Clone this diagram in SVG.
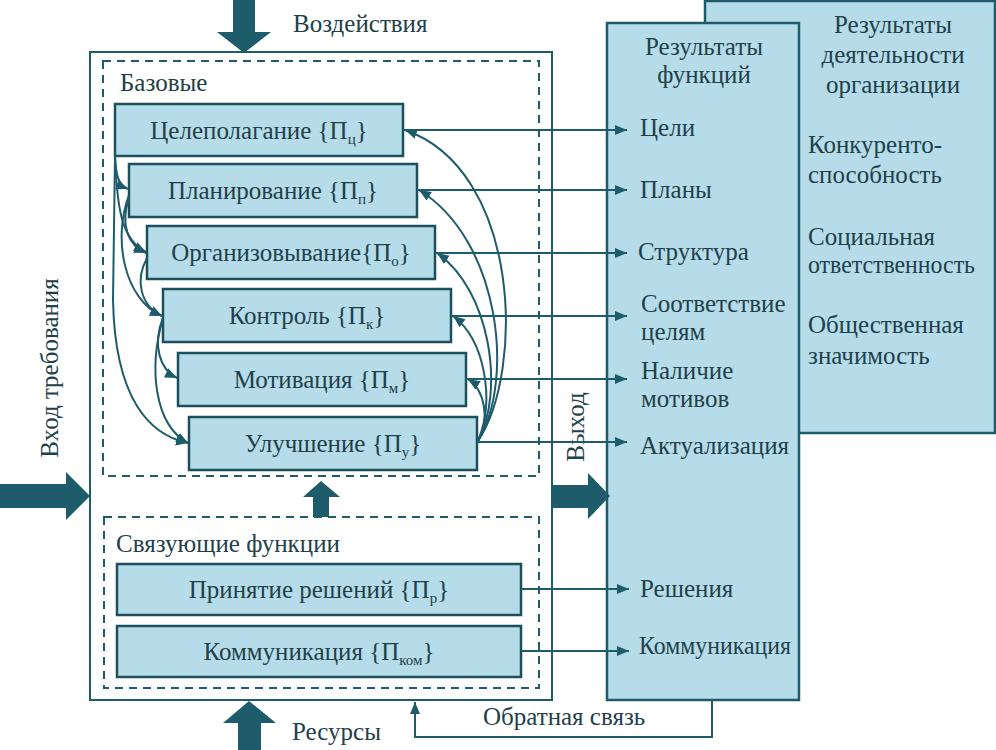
<svg xmlns="http://www.w3.org/2000/svg" width="996" height="750" viewBox="0 0 996 750">
<style>
text{fill:#22404a}
.box{fill:#b5dce8;stroke:#1d4f5c;stroke-width:2.5}
.panel{fill:#b5dce8;stroke:#1f5c6b;stroke-width:2.5}
.frame{fill:#fff;stroke:#1f5c6b;stroke-width:2}
.dash{fill:none;stroke:#1f5c6b;stroke-width:2;stroke-dasharray:8 6}
.big{fill:#1f5c6b}
.c{fill:none;stroke:#1f5c6b;stroke-width:2;marker-end:url(#ah)}
</style>
<defs>
<marker id="ah" markerUnits="userSpaceOnUse" markerWidth="13" markerHeight="11" refX="12" refY="5" orient="auto" viewBox="0 0 13 11">
<path d="M0,0 L12,5 L0,10 z" fill="#1f5c6b"/>
</marker>
</defs>
<rect width="996" height="750" fill="#fff"/>

<g id="results-org">
<rect class="panel" x="705" y="1" width="290" height="432"/>
<text font-family="Liberation Serif" font-size="25" text-anchor="middle" x="893" y="33">Результаты</text>
<text font-family="Liberation Serif" font-size="25" text-anchor="middle" x="893" y="63">деятельности</text>
<text font-family="Liberation Serif" font-size="25" text-anchor="middle" x="893" y="93">организации</text>
<text font-family="Liberation Serif" font-size="25" x="808" y="153">Конкуренто-</text>
<text font-family="Liberation Serif" font-size="25" x="808" y="183">способность</text>
<text font-family="Liberation Serif" font-size="25" x="808" y="245">Социальная</text>
<text font-family="Liberation Serif" font-size="25" x="808" y="273" textLength="167" lengthAdjust="spacingAndGlyphs">ответственность</text>
<text font-family="Liberation Serif" font-size="25" x="808" y="333">Общественная</text>
<text font-family="Liberation Serif" font-size="25" x="808" y="364">значимость</text>
</g>

<g id="results-func">
<rect class="panel" x="607" y="23" width="192" height="677"/>
<text font-family="Liberation Serif" font-size="25" text-anchor="middle" x="704" y="55">Результаты</text>
<text font-family="Liberation Serif" font-size="25" text-anchor="middle" x="704" y="83">функций</text>
<text font-family="Liberation Serif" font-size="25" x="640" y="136">Цели</text>
<text font-family="Liberation Serif" font-size="25" x="640" y="198">Планы</text>
<text font-family="Liberation Serif" font-size="25" x="638" y="260">Структура</text>
<text font-family="Liberation Serif" font-size="25" x="641" y="312">Соответствие</text>
<text font-family="Liberation Serif" font-size="25" x="641" y="340">целям</text>
<text font-family="Liberation Serif" font-size="25" x="641" y="379">Наличие</text>
<text font-family="Liberation Serif" font-size="25" x="641" y="407">мотивов</text>
<text font-family="Liberation Serif" font-size="25" x="640" y="454">Актуализация</text>
<text font-family="Liberation Serif" font-size="25" x="640" y="597">Решения</text>
<text font-family="Liberation Serif" font-size="25" x="639" y="654" textLength="152" lengthAdjust="spacingAndGlyphs">Коммуникация</text>
</g>

<g id="system">
<rect class="frame" x="90" y="52" width="462" height="648"/>
<rect class="dash" x="103" y="61" width="436" height="415"/>
<rect class="dash" x="104" y="517" width="435" height="171"/>
<text font-family="Liberation Serif" font-size="25" x="120" y="91">Базовые</text>
<text font-family="Liberation Serif" font-size="25" x="116" y="552">Связующие функции</text>
</g>

<g id="inputs">
<path class="big" d="M233,0 H255 V32 H271 L244,53 L217,32 H233 Z"/>
<text font-family="Liberation Serif" font-size="25" x="293" y="32">Воздействия</text>
<path class="big" d="M0,484 H66 V472 L90,496 L66,520 V508 H0 Z"/>
<text font-family="Liberation Serif" font-size="25" text-anchor="middle" transform="translate(58,368) rotate(-90)">Вход требования</text>
<path class="big" d="M238,750 V723 H223 L249,701 L276,723 H261 V750 Z"/>
<text font-family="Liberation Serif" font-size="25" x="292" y="740">Ресурсы</text>
<path class="big" d="M313,517 V497 H303 L321,481 L340,497 H329 V517 Z"/>
<path class="big" d="M552,485 H588 V473 L610,496 L588,519 V508 H552 Z"/>
<text font-family="Liberation Serif" font-size="25" text-anchor="middle" transform="translate(584,427) rotate(-90)">Выход</text>
<text font-family="Liberation Serif" font-size="25" x="483" y="725">Обратная связь</text>
</g>

<g id="n-goal"><rect class="box" x="115" y="104" width="288" height="52"/>
<text font-family="Liberation Serif" font-size="25" text-anchor="middle" x="259" y="139">Целеполагание {П<tspan font-size="15" dy="5">ц</tspan><tspan dy="-5">}</tspan></text></g>
<g id="n-plan"><rect class="box" x="129" y="164" width="288" height="53"/>
<text font-family="Liberation Serif" font-size="25" text-anchor="middle" x="273" y="199">Планирование {П<tspan font-size="15" dy="5">п</tspan><tspan dy="-5">}</tspan></text></g>
<g id="n-org"><rect class="box" x="147" y="226" width="288" height="53"/>
<text font-family="Liberation Serif" font-size="25" text-anchor="middle" x="291" y="261">Организовывание{П<tspan font-size="15" dy="5">о</tspan><tspan dy="-5">}</tspan></text></g>
<g id="n-ctrl"><rect class="box" x="163" y="289" width="288" height="53"/>
<text font-family="Liberation Serif" font-size="25" text-anchor="middle" x="307" y="324">Контроль {П<tspan font-size="15" dy="5">к</tspan><tspan dy="-5">}</tspan></text></g>
<g id="n-motiv"><rect class="box" x="178" y="353" width="288" height="53"/>
<text font-family="Liberation Serif" font-size="25" text-anchor="middle" x="322" y="388">Мотивация {П<tspan font-size="15" dy="5">м</tspan><tspan dy="-5">}</tspan></text></g>
<g id="n-impr"><rect class="box" x="189" y="417" width="288" height="53"/>
<text font-family="Liberation Serif" font-size="25" text-anchor="middle" x="333" y="452">Улучшение {П<tspan font-size="15" dy="5">у</tspan><tspan dy="-5">}</tspan></text></g>
<g id="n-dec"><rect class="box" x="117" y="564" width="404" height="51"/>
<text font-family="Liberation Serif" font-size="25" text-anchor="middle" x="319" y="598">Принятие решений {П<tspan font-size="15" dy="5">р</tspan><tspan dy="-5">}</tspan></text></g>
<g id="n-comm"><rect class="box" x="117" y="626" width="404" height="51"/>
<text font-family="Liberation Serif" font-size="25" text-anchor="middle" x="319" y="660">Коммуникация {П<tspan font-size="15" dy="5">ком</tspan><tspan dy="-5">}</tspan></text></g>

<g id="connectors">
<path class="c" d="M403,130 H627"/>
<path class="c" d="M417,190 H627"/>
<path class="c" d="M435,253 H627"/>
<path class="c" d="M451,316 H627"/>
<path class="c" d="M466,379 H627"/>
<path class="c" d="M477,442 H627"/>
<path class="c" d="M521,589 H629"/>
<path class="c" d="M521,651 H629"/>
<path class="c" d="M478,441 C525,370 520,170 405,130"/>
<path class="c" d="M478,441 C515,380 500,240 419,190"/>
<path class="c" d="M478,441 C505,390 490,290 437,253"/>
<path class="c" d="M478,441 C495,400 485,340 453,316"/>
<path class="c" d="M478,441 C490,420 485,390 468,379"/>
<path class="c" d="M115,156 C116,175 118,185 128,189"/>
<path class="c" d="M115,156 C117,210 122,240 146,252"/>
<path class="c" d="M129,198 C120,225 128,245 146,253"/>
<path class="c" d="M115,156 L113,300 C115,400 150,435 188,443"/>
<path class="c" d="M129,195 C112,240 125,300 162,316"/>
<path class="c" d="M147,258 C135,280 140,305 162,316"/>
<path class="c" d="M163,318 C152,345 160,370 177,378"/>
<path class="c" d="M163,318 C148,370 155,425 188,443"/>
<path fill="none" stroke="#1f5c6b" stroke-width="2" marker-end="url(#ah)" d="M712,700 V737 H415 V702"/>
</g>
</svg>
